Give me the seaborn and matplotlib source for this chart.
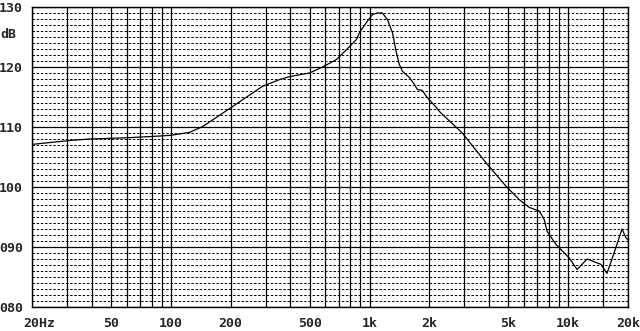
import numpy as np
import pandas as pd
import matplotlib
matplotlib.use("Agg")
import matplotlib.pyplot as plt
import seaborn as sns

# Frequency response data (Hz, dB)
freq = [20, 31, 39, 60, 78, 99, 124, 145, 198, 290, 352, 396, 499, 580, 682,
        793, 860, 890, 964, 1035, 1096, 1161, 1230, 1304, 1365, 1413, 1464,
        1587, 1681, 1741, 1844, 1932, 2168, 2246, 2930, 3866, 4874, 5666,
        6362, 7145, 7570, 7832, 8695, 10100, 11085, 12443, 14622, 15672,
        17012, 18660, 19546, 20000]
level = [107.1, 107.75, 108.0, 108.2, 108.4, 108.6, 109.1, 110.1, 113.1, 116.8,
         117.9, 118.4, 119.0, 120.0, 121.25, 123.4, 124.6, 125.75, 127.4,
         128.75, 129.0, 129.0, 127.9, 125.75, 122.4, 120.4, 119.3, 118.25,
         117.1, 116.25, 116.1, 115.1, 113.25, 112.6, 109.0, 104.0, 100.1,
         97.9, 96.6, 96.0, 94.6, 92.6, 90.4, 88.2, 86.25, 88.0, 87.1, 85.6,
         89.0, 93.0, 91.5, 91.2]

x_tick_vals = [50, 100, 200, 500, 1000, 2000, 5000, 10000, 20000]
x_tick_labels = ["50", "100", "200", "500", "1k", "2k", "5k", "10k", "20k"]
y_tick_vals = [80, 90, 100, 110, 120, 130]
y_tick_labels = ["080", "090", "100", "110", "120", "130"]

sns.set_style("white")
plt.rcParams['font.family'] = ['DejaVu Sans Mono', 'DejaVu Sans']
plt.rcParams['font.weight'] = 'bold'

fig = plt.figure(figsize=(6.4, 3.31), dpi=100)
ax = fig.add_axes([32/640, 1-307/331, (628-32)/640, 300/331])

df = pd.DataFrame({"freq": freq, "level": level})
sns.lineplot(data=df, x="freq", y="level", ax=ax, color="black",
             linewidth=0.9, sort=False)

ax.set_xscale("log")
ax.set_xlim(20, 20000)
ax.set_ylim(80, 130)

minor_x = []
for dec in [10, 100, 1000]:
    for m in range(1, 10):
        v = m * dec
        if 20 <= v <= 20000:
            minor_x.append(v)
minor_x += [10000, 15000]
ax.set_xticks(minor_x, minor=True)
ax.set_xticks(x_tick_vals)
ax.set_xticklabels(x_tick_labels, fontsize=9.5, fontweight='bold')
ax.set_xticklabels([], minor=True)

ax.set_yticks(y_tick_vals)
ax.set_yticklabels(y_tick_labels, fontsize=9.5, fontweight='bold')
ax.set_yticks(np.arange(80, 131, 1), minor=True)
ax.set_yticklabels([], minor=True)

ax.tick_params(axis='both', which='both', length=0)
ax.tick_params(axis='x', pad=7.5)
ax.tick_params(axis='y', pad=6.5)

ax.grid(which='major', axis='both', color='black', linewidth=0.9, linestyle='-')
ax.grid(which='minor', axis='x', color='black', linewidth=0.9, linestyle='-')
ax.grid(which='minor', axis='y', color='black', linewidth=0.7,
        linestyle=(0, (2.5, 1.8)))
ax.set_axisbelow(True)

for s in ax.spines.values():
    s.set_color('black')
    s.set_linewidth(1.0)

ax.set_xlabel("")
ax.set_ylabel("")

ax.annotate("20Hz", xy=(20, 80), xycoords='data', xytext=(-9, -10.4),
            textcoords='offset pixels', ha='left', va='top',
            fontsize=9.5, fontweight='bold', annotation_clip=False)
fig.text(0/640, 1-35/331, "dB", ha='left', va='center', fontsize=9.5,
         fontweight='bold')

fig.savefig("out.png", dpi=100, facecolor='white')
